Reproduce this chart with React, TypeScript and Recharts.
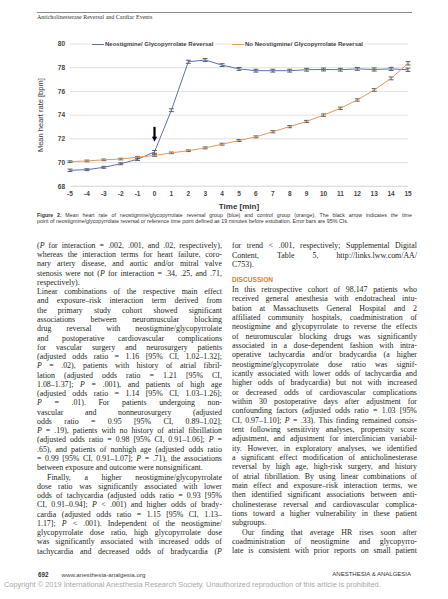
import React from 'react';
import { LineChart, Line, XAxis, YAxis, CartesianGrid, ErrorBar, Legend, ReferenceDot } from 'recharts';

const timePoints = ['-5', '-4', '-3', '-2', '-1', '0', '1', '2', '3', '4', '5', '6', '7', '8', '9', '10', '11', '12', '13', '14', '15'];
const neoRate = [69.35, 69.4, 69.6, 69.9, 70.28, 70.9, 74.42, 78.5, 78.65, 78.22, 77.9, 77.75, 77.75, 77.75, 77.83, 77.85, 77.83, 77.9, 77.85, 77.9, 77.83];
const neoCi = [0.1, 0.08, 0.08, 0.08, 0.1, 0.12, 0.12, 0.13, 0.12, 0.12, 0.12, 0.12, 0.12, 0.12, 0.12, 0.12, 0.12, 0.12, 0.13, 0.13, 0.14];
const noNeoRate = [70.08, 70.14, 70.23, 70.3, 70.45, 70.6, 70.82, 71.0, 71.24, 71.55, 71.86, 72.17, 72.6, 73.03, 73.47, 74.0, 74.58, 75.28, 76.13, 77.1, 78.37];
const noNeoCi = [0.07, 0.07, 0.07, 0.07, 0.07, 0.07, 0.07, 0.07, 0.08, 0.08, 0.08, 0.08, 0.09, 0.09, 0.09, 0.1, 0.1, 0.1, 0.11, 0.12, 0.14];
const yTicks = [68, 70, 72, 74, 76, 78, 80];
const seriesNames = ['Neostigmine/ Glycopyrrolate Reversal', 'No Neostigmine/ Glycopyrrolate Reversal'];
// black arrow: time point of reversal
const arrowTime = '0';
const arrowTip = 71.75;

const BLUE = '#5a74b0';
const ORANGE = '#e09a5c';

const chartData = timePoints.map((t, i) => ({
  time: t,
  neo: neoRate[i],
  neoCi: neoCi[i],
  noNeo: noNeoRate[i],
  noNeoCi: noNeoCi[i],
}));

const leftLines = [
  { t: '(*P* for interaction = .002, .001, and .02, respectively),' },
  { t: 'whereas the interaction terms for heart failure, coro-' },
  { t: 'nary artery disease, and aortic and/or mitral valve' },
  { t: 'stenosis were not (*P* for interaction = .34, .25, and .71,' },
  { t: 'respectively).', last: true },
  { t: 'Linear combinations of the respective main effect' },
  { t: 'and exposure–risk interaction term derived from' },
  { t: 'the primary study cohort showed significant' },
  { t: 'associations between neuromuscular blocking' },
  { t: 'drug reversal with neostigmine/glycopyrrolate' },
  { t: 'and postoperative cardiovascular complications' },
  { t: 'for vascular surgery and neurosurgery patients' },
  { t: '(adjusted odds ratio = 1.16 [95% CI, 1.02–1.32];' },
  { t: '*P* = .02), patients with history of atrial fibril-' },
  { t: 'lation (adjusted odds ratio = 1.21 [95% CI,' },
  { t: '1.08–1.37]; *P* = .001), and patients of high age' },
  { t: '(adjusted odds ratio = 1.14 [95% CI, 1.03–1.26];' },
  { t: '*P* = .01). For patients undergoing non-' },
  { t: 'vascular and nonneurosurgery (adjusted' },
  { t: 'odds ratio = 0.95 [95% CI, 0.89–1.02];' },
  { t: '*P* = .19), patients with no history of atrial fibrillation' },
  { t: '(adjusted odds ratio = 0.98 [95% CI, 0.91–1.06]; *P* =' },
  { t: '.65), and patients of nonhigh age (adjusted odds ratio' },
  { t: '= 0.99 [95% CI, 0.91–1.07]; *P* = .71), the associations' },
  { t: 'between exposure and outcome were nonsignificant.', last: true },
  { t: 'Finally, a higher neostigmine/glycopyrrolate', indent: true },
  { t: 'dose ratio was significantly associated with lower' },
  { t: 'odds of tachycardia (adjusted odds ratio = 0.93 [95%' },
  { t: 'CI, 0.91–0.94]; *P* < .001) and higher odds of brady-' },
  { t: 'cardia (adjusted odds ratio = 1.15 [95% CI, 1.13–' },
  { t: '1.17]; *P* < .001). Independent of the neostigmine/' },
  { t: 'glycopyrrolate dose ratio, high glycopyrrolate dose' },
  { t: 'was significantly associated with increased odds of' },
  { t: 'tachycardia and decreased odds of bradycardia (*P*' },
];

const rightTop = [
  { t: 'for trend < .001, respectively; Supplemental Digital' },
  { t: 'Content, Table 5, http://links.lww.com/AA/' },
  { t: 'C753).', last: true },
];

const rightLines = [
  { t: 'In this retrospective cohort of 98,147 patients who' },
  { t: 'received general anesthesia with endotracheal intu-' },
  { t: 'bation at Massachusetts General Hospital and 2' },
  { t: 'affiliated community hospitals, coadministration of' },
  { t: 'neostigmine and glycopyrrolate to reverse the effects' },
  { t: 'of neuromuscular blocking drugs was significantly' },
  { t: 'associated in a dose-dependent fashion with intra-' },
  { t: 'operative tachycardia and/or bradycardia (a higher' },
  { t: 'neostigmine/glycopyrrolate dose ratio was signif-' },
  { t: 'icantly associated with lower odds of tachycardia and' },
  { t: 'higher odds of bradycardia) but not with increased' },
  { t: 'or decreased odds of cardiovascular complications' },
  { t: 'within 30 postoperative days after adjustment for' },
  { t: 'confounding factors (adjusted odds ratio = 1.03 [95%' },
  { t: 'CI, 0.97–1.10]; *P* = .33). This finding remained consis-' },
  { t: 'tent following sensitivity analyses, propensity score' },
  { t: 'adjustment, and adjustment for interclinician variabil-' },
  { t: 'ity. However, in exploratory analyses, we identified' },
  { t: 'a significant effect modification of anticholinesterase' },
  { t: 'reversal by high age, high-risk surgery, and history' },
  { t: 'of atrial fibrillation. By using linear combinations of' },
  { t: 'main effect and exposure–risk interaction terms, we' },
  { t: 'then identified significant associations between anti-' },
  { t: 'cholinesterase reversal and cardiovascular complica-' },
  { t: 'tions toward a higher vulnerability in these patient' },
  { t: 'subgroups.', last: true },
  { t: 'Our finding that average HR rises soon after', indent: true },
  { t: 'coadministration of neostigmine and glycopyrro-' },
  { t: 'late is consistent with prior reports on small patient' },
];

const captionLines = [
  { t: '#Figure 2.# Mean heart rate of neostigmine/glycopyrrolate reversal group (blue) and control group (orange). The black arrow indicates the time' },
  { t: 'point of neostigmine/glycopyrrolate reversal or reference time point defined as 19 minutes before extubation. Error bars are 95% CIs.', last: true },
];

type Seg = { s: string; i: boolean; b: boolean };

function parseWords(text: string): Seg[][] {
  const words: Seg[][] = [[]];
  let it = false;
  let bd = false;
  let buf = '';
  const flush = () => {
    if (buf) {
      words[words.length - 1].push({ s: buf, i: it, b: bd });
      buf = '';
    }
  };
  for (const ch of text) {
    if (ch === '*') { flush(); it = !it; }
    else if (ch === '#') { flush(); bd = !bd; }
    else if (ch === ' ') { flush(); words.push([]); }
    else buf += ch;
  }
  flush();
  return words.filter(w => w.length);
}

function Word({ segs }: { segs: Seg[] }) {
  return (
    <span>
      {segs.map((g, k) => (
        <span key={k} style={{ fontStyle: g.i ? 'italic' : 'normal', fontWeight: g.b ? 700 : 400 }}>{g.s}</span>
      ))}
    </span>
  );
}

function TextLine({ t, last, indent, lh }: { t: string; last?: boolean; indent?: boolean; lh: number }) {
  const words = parseWords(t);
  const base: React.CSSProperties = { height: lh, lineHeight: `${lh}px`, whiteSpace: 'nowrap', paddingLeft: indent ? 10 : 0 };
  if (last) {
    return (
      <div style={base}>
        {words.map((w, i) => (
          <React.Fragment key={i}>{i > 0 ? ' ' : ''}<Word segs={w} /></React.Fragment>
        ))}
      </div>
    );
  }
  return (
    <div style={{ ...base, display: 'flex', justifyContent: 'space-between' }}>
      {words.map((w, i) => <Word key={i} segs={w} />)}
    </div>
  );
}

const BODY_FONT: React.CSSProperties = { fontFamily: '"Liberation Serif", serif', fontSize: 7.9, color: '#231f20' };
const LH = 9.28;

function ArrowShape(props: any) {
  const { cx, cy } = props;
  return (
    <g>
      <rect x={cx - 1.1} y={cy - 15} width={2.2} height={10.5} fill="#000" />
      <path d={`M${cx - 2.6},${cy - 5} L${cx + 2.6},${cy - 5} L${cx},${cy} Z`} fill="#000" />
    </g>
  );
}

function ChartLegend() {
  const item = (color: string, label: string, left: number) => (
    <div style={{ position: 'absolute', left, top: 0, display: 'flex', alignItems: 'center', background: '#fff', paddingRight: 2, height: 8 }}>
      <div style={{ width: 12, height: 1, background: color, marginRight: 1 }} />
      <span style={{ fontSize: 6, fontFamily: '"Liberation Sans", Arial, sans-serif', fontWeight: 700, color: '#404040', lineHeight: '8px', whiteSpace: 'nowrap' }}>{label}</span>
    </div>
  );
  return (
    <div style={{ position: 'relative', width: 448, height: 8 }}>
      {item(BLUE, seriesNames[0], 92)}
      {item(ORANGE, seriesNames[1], 232)}
    </div>
  );
}

export default function App() {
  const tickStyle = { fontSize: 6.5, fill: '#444', fontWeight: 700, fontFamily: '"Liberation Sans", Arial, sans-serif' };
  return (
    <div style={{ position: 'absolute', left: 0, top: 0, width: 448, height: 599, overflow: 'hidden', background: '#fff' }}>
      {/* running head */}
      <div style={{ position: 'absolute', left: 37, top: 12, width: 375, height: 1, background: '#8a8a8a' }} />
      <div style={{ position: 'absolute', left: 37, top: 14, fontFamily: '"Liberation Serif", serif', fontSize: 6, color: '#333', lineHeight: '7px', whiteSpace: 'nowrap' }}>
        Anticholinesterase Reversal and Cardiac Events
      </div>

      <div style={{ position: 'absolute', left: 0, top: 0 }}>
        <LineChart width={448} height={216} data={chartData} margin={{ top: 44, right: 40, left: 0, bottom: 0 }}>
          <CartesianGrid vertical={false} stroke="#d9d9d9" strokeWidth={0.8} />
          <XAxis
            dataKey="time"
            height={29.7}
            tick={tickStyle}
            tickLine={false}
            tickSize={4}
            tickMargin={1.5}
            axisLine={{ stroke: '#d9d9d9', strokeWidth: 0.8 }}
            interval={0}
            label={{ value: 'Time [min]', position: 'insideBottom', offset: 7, style: { fontSize: 8, fontWeight: 700, fill: '#333', fontFamily: '"Liberation Sans", Arial, sans-serif' } }}
          />
          <YAxis
            width={70}
            domain={[68, 80]}
            ticks={yTicks}
            tick={tickStyle}
            tickLine={false}
            tickSize={4}
            tickMargin={1}
            axisLine={false}
            label={{ value: 'Mean heart rate [bpm]', angle: -90, position: 'insideLeft', offset: 40, style: { textAnchor: 'middle', fontSize: 7.5, fill: '#333', fontFamily: '"Liberation Sans", Arial, sans-serif' } }}
          />
          <Legend verticalAlign="middle" align="center" wrapperStyle={{ top: 40, left: 0, width: 448, height: 8 }} content={() => <ChartLegend />} />
          <Line dataKey="neo" name={seriesNames[0]} stroke={BLUE} strokeWidth={1} dot={false} isAnimationActive={false}>
            <ErrorBar dataKey="neoCi" width={2.5} stroke="#3a3a3a" strokeWidth={0.8} isAnimationActive={false} />
          </Line>
          <Line dataKey="noNeo" name={seriesNames[1]} stroke={ORANGE} strokeWidth={1} dot={false} isAnimationActive={false}>
            <ErrorBar dataKey="noNeoCi" width={2.5} stroke="#3a3a3a" strokeWidth={0.8} isAnimationActive={false} />
          </Line>
          <ReferenceDot x={arrowTime} y={arrowTip} r={0} shape={ArrowShape} />
        </LineChart>
      </div>

      {/* caption */}
      <div style={{ position: 'absolute', left: 37, top: 212, width: 375, fontFamily: '"Liberation Sans", Arial, sans-serif', fontSize: 5.3, color: '#333' }}>
        {captionLines.map((l, i) => <TextLine key={i} t={l.t} last={l.last} lh={6.4} />)}
      </div>

      {/* left column */}
      <div style={{ position: 'absolute', left: 37, top: 240.9, width: 185, ...BODY_FONT }}>
        {leftLines.map((l, i) => <TextLine key={i} t={l.t} last={l.last} indent={l.indent} lh={LH} />)}
      </div>

      {/* right column */}
      <div style={{ position: 'absolute', left: 232, top: 241.4, width: 185, ...BODY_FONT }}>
        {rightTop.map((l, i) => <TextLine key={i} t={l.t} last={l.last} lh={LH} />)}
      </div>
      <div style={{ position: 'absolute', left: 232, top: 276, fontFamily: '"Liberation Sans", Arial, sans-serif', fontWeight: 700, fontSize: 6.6, color: '#d9822b', lineHeight: '8px' }}>
        DISCUSSION
      </div>
      <div style={{ position: 'absolute', left: 232, top: 285.1, width: 185, ...BODY_FONT }}>
        {rightLines.map((l, i) => <TextLine key={i} t={l.t} last={l.last} indent={l.indent} lh={9.33} />)}
      </div>

      {/* footer */}
      <div style={{ position: 'absolute', left: 38, top: 570.5, fontFamily: '"Liberation Sans", Arial, sans-serif', fontSize: 6.3, fontWeight: 700, color: '#333', lineHeight: '7px' }}>692</div>
      <div style={{ position: 'absolute', left: 61.5, top: 570.5, fontFamily: '"Liberation Sans", Arial, sans-serif', fontSize: 6.2, color: '#444', lineHeight: '7px' }}>www.anesthesia-analgesia.org</div>
      <div style={{ position: 'absolute', right: 37, top: 570.5, fontFamily: '"Liberation Sans", Arial, sans-serif', fontSize: 6, color: '#333', lineHeight: '7px', whiteSpace: 'nowrap' }}>ANESTHESIA &amp; ANALGESIA</div>
      <div style={{ position: 'absolute', left: 4, top: 580, fontFamily: '"Liberation Sans", Arial, sans-serif', fontSize: 7.4, color: '#a8a8a8', lineHeight: '9px', whiteSpace: 'nowrap' }}>
        Copyright © 2019 International Anesthesia Research Society. Unauthorized reproduction of this article is prohibited.
      </div>
    </div>
  );
}
